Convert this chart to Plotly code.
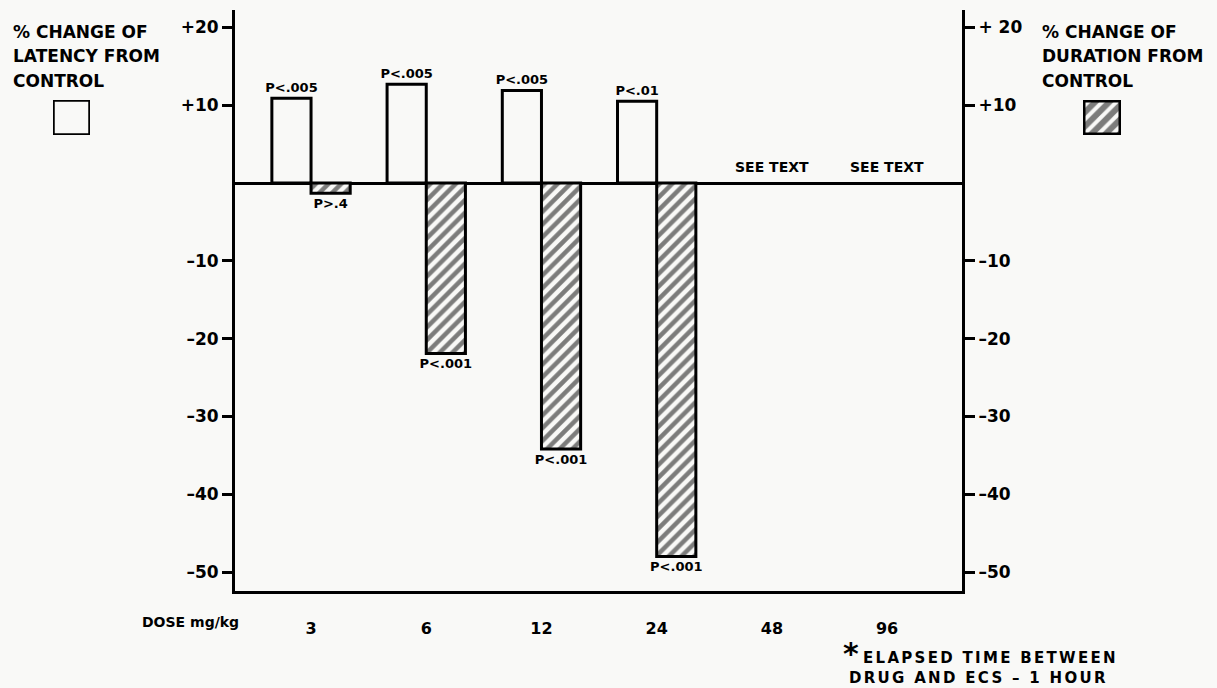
import plotly.graph_objects as go

# ---- data ----
doses = ["3", "6", "12", "24", "48", "96"]
bar_doses = ["3", "6", "12", "24"]
latency = [10.9, 12.7, 11.9, 10.5]
duration = [-1.3, -21.9, -34.2, -48.0]
latency_p = ["P<.005", "P<.005", "P<.005", "P<.01"]
duration_p = ["P>.4", "P<.001", "P<.001", "P<.001"]
see_text_doses = ["48", "96"]
ytick_vals = [-50, -40, -30, -20, -10, 10, 20]
ytick_left = ["–50", "–40", "–30", "–20", "–10", "+10", "+20"]
ytick_right = ["–50", "–40", "–30", "–20", "–10", "+10", "+ 20"]
left_title = ["% CHANGE OF", "LATENCY FROM", "CONTROL"]
right_title = ["% CHANGE OF", "DURATION FROM", "CONTROL"]
footnote = ["ELAPSED TIME BETWEEN", "DRUG AND ECS – 1 HOUR"]

# ---- style ----
W, H = 1217, 688
BG = "#f9f9f7"
FONT = "DejaVu Sans"
INK = "black"
YR = [-52.44, 22.24]


def px_x(p):
    return p / W


def px_y(p):
    return (H - p) / H


def f(size):
    return dict(size=size, color=INK, family=FONT, weight="bold")


hatch = dict(shape="/", fgcolor=INK, bgcolor=BG, size=9, solidity=0.5)

fig = go.Figure()

fig.add_bar(
    x=bar_doses, y=latency, text=latency_p, textposition="outside", constraintext="none",
    marker=dict(color=BG, line=dict(color=INK, width=3)),
    textfont=f(13), cliponaxis=False, showlegend=False, xaxis="x", yaxis="y",
)
fig.add_bar(
    x=bar_doses, y=duration, text=duration_p, textposition="outside", constraintext="none",
    marker=dict(color=BG, line=dict(color=INK, width=3), pattern=hatch),
    textfont=f(13), cliponaxis=False, showlegend=False, xaxis="x", yaxis="y",
)
# right axis carrier (no marks)
fig.add_scatter(x=[], y=[], xaxis="x", yaxis="y2", showlegend=False, hoverinfo="skip")

# legend swatches
fig.add_bar(x=[0], y=[1], width=1, xaxis="x3", yaxis="y3",
            marker=dict(color=BG, line=dict(color=INK, width=3.5)),
            cliponaxis=False, showlegend=False, hoverinfo="skip")
fig.add_bar(x=[0], y=[1], width=1, xaxis="x4", yaxis="y4",
            marker=dict(color=BG, line=dict(color=INK, width=5),
                        pattern=dict(shape="/", fgcolor=INK, bgcolor=BG, size=10, solidity=0.6)),
            cliponaxis=False, showlegend=False, hoverinfo="skip")

fig.update_layout(
    width=W, height=H, autosize=False,
    margin=dict(l=0, r=0, t=0, b=0),
    paper_bgcolor=BG, plot_bgcolor=BG,
    font=dict(family=FONT, color=INK),
    barmode="group", bargap=0.32, bargroupgap=0,
    uniformtext=dict(mode=False),
    xaxis=dict(
        type="category", categoryorder="array", categoryarray=doses,
        tickvals=doses, ticktext=doses,
        range=[-0.66, 5.65], domain=[px_x(235), px_x(962)], anchor="y",
        showline=True, linecolor=INK, linewidth=3,
        ticks="outside", ticklen=21, tickcolor="rgba(0,0,0,0)",
        tickfont=f(16),
        showgrid=False, zeroline=False, fixedrange=True,
    ),
    yaxis=dict(
        range=YR, domain=[px_y(591), px_y(10)], anchor="x",
        showline=True, linecolor=INK, linewidth=3,
        ticks="outside", ticklen=10, tickwidth=3, tickcolor=INK,
        tickvals=ytick_vals, ticktext=ytick_left, tickfont=f(17),
        zeroline=True, zerolinecolor=INK, zerolinewidth=3,
        showgrid=False, fixedrange=True,
    ),
    yaxis2=dict(
        range=YR, overlaying="y", side="right", anchor="x",
        showline=True, linecolor=INK, linewidth=3,
        ticks="outside", ticklen=10, tickwidth=3, tickcolor=INK,
        tickvals=ytick_vals, ticktext=ytick_right, tickfont=f(17),
        zeroline=False, showgrid=False, fixedrange=True,
    ),
    xaxis3=dict(domain=[px_x(53), px_x(90)], range=[-0.5, 0.5], visible=False, anchor="y3", fixedrange=True),
    yaxis3=dict(domain=[px_y(135), px_y(100)], range=[0, 1], visible=False, anchor="x3", fixedrange=True),
    xaxis4=dict(domain=[px_x(1083), px_x(1121)], range=[-0.5, 0.5], visible=False, anchor="y4", fixedrange=True),
    yaxis4=dict(domain=[px_y(135), px_y(100)], range=[0, 1], visible=False, anchor="x4", fixedrange=True),
)

ann = []
title_rows = [32, 56, 81]
for txt, yy in zip(left_title, title_rows):
    ann.append(dict(text=txt, xref="paper", yref="paper", x=px_x(11), y=px_y(yy),
                    xanchor="left", yanchor="middle", showarrow=False, font=f(17)))
for txt, yy in zip(right_title, title_rows):
    ann.append(dict(text=txt, xref="paper", yref="paper", x=px_x(1040), y=px_y(yy),
                    xanchor="left", yanchor="middle", showarrow=False, font=f(17)))
ann.append(dict(text="DOSE mg/kg", xref="paper", yref="paper",
                x=px_x(140), y=px_y(622), xanchor="left", yanchor="middle",
                showarrow=False, font=f(14)))
for d in see_text_doses:
    ann.append(dict(text="SEE TEXT", xref="x", yref="y", x=doses.index(d), y=0,
                    xanchor="center", yanchor="bottom", yshift=6, showarrow=False,
                    font=f(14)))
foot_rows = [(990, 658), (978, 678)]
for txt, (xx, yy) in zip(footnote, foot_rows):
    ann.append(dict(text="<span style='letter-spacing:2.3px'>" + txt + "</span>",
                    xref="paper", yref="paper", x=px_x(xx), y=px_y(yy),
                    xanchor="center", yanchor="middle", showarrow=False, font=f(15)))
ann.append(dict(text="*", xref="paper", yref="paper", x=px_x(851), y=px_y(653),
                xanchor="center", yanchor="middle", showarrow=False, font=f(30)))
fig.update_layout(annotations=ann)

fig.write_html("out.html")
